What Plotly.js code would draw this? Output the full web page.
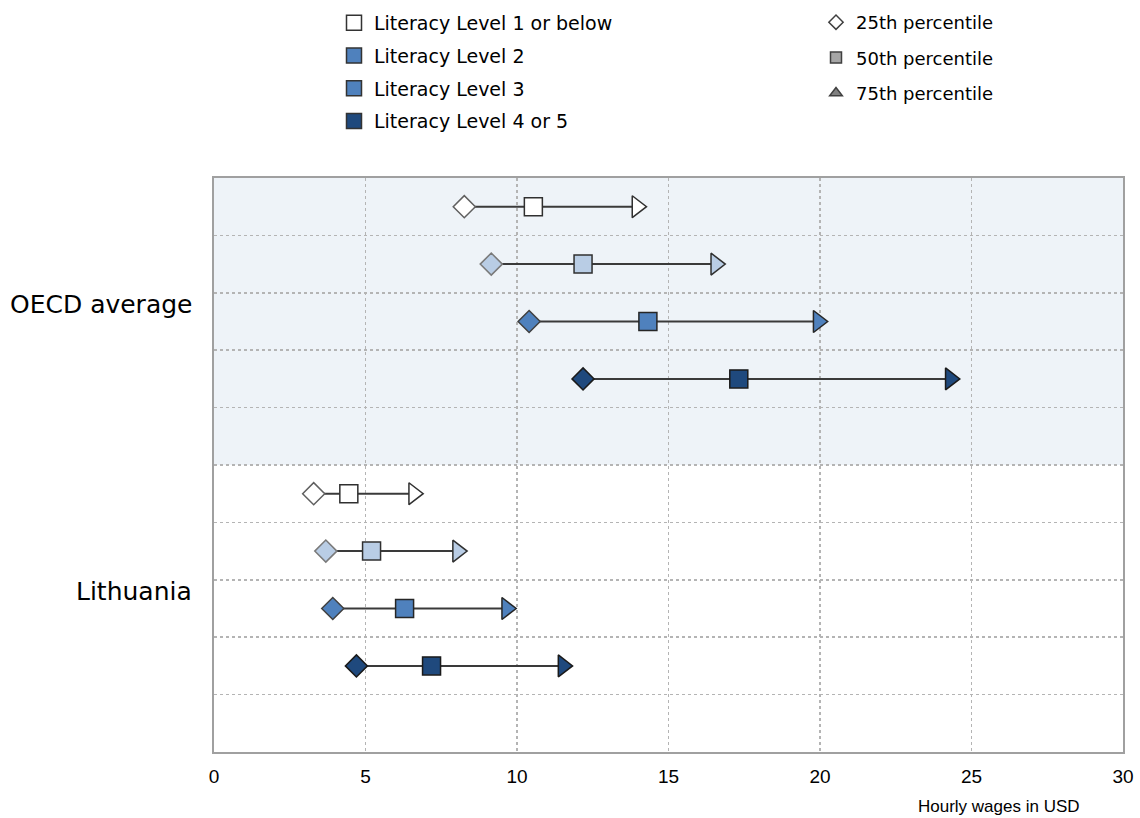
<!DOCTYPE html>
<html>
<head>
<meta charset="utf-8">
<script src="https://cdn.plot.ly/plotly-3.0.1.min.js"></script>
<style>html,body{margin:0;padding:0;background:#fff;}#chart{width:1140px;height:818px;}</style>
</head>
<body>
<div id="chart"></div>
<script>
// ---- data ----
var countries = ['OECD average', 'Lithuania'];
var levels = ['Literacy Level 1 or below', 'Literacy Level 2', 'Literacy Level 3', 'Literacy Level 4 or 5'];
var percentiles = ['25th percentile', '50th percentile', '75th percentile'];
var p25_oecd = [8.26, 9.15, 10.40, 12.18];
var p50_oecd = [10.54, 12.18, 14.32, 17.32];
var p75_oecd = [13.96, 16.56, 19.94, 24.30];
var p25_lt = [3.29, 3.69, 3.92, 4.70];
var p50_lt = [4.45, 5.20, 6.29, 7.18];
var p75_lt = [6.59, 8.04, 9.66, 11.52];
var xTicks = [0, 5, 10, 15, 20, 25, 30];
var xTitle = 'Hourly wages in USD';

// ---- style ----
var fillColors = ['#FFFFFF', '#B9CDE5', '#4F81BD', '#1F497D'];
var legendColors = ['#FFFFFF', '#4F81BD', '#4F81BD', '#1F497D'];
var edgeColors = ['#303030', '#303030', '#262626', '#1a1a1a'];
var diamondEdge = ['#606060', '#7a7a7a', '#404040', '#1a1a1a'];
var FONT = 'DejaVu Sans, Verdana, sans-serif';

// rows: OECD 0..3, gap 4, Lithuania 5..8, gap 9
var rowsOecd = [0, 1, 2, 3];
var rowsLt = [5, 6, 7, 8];

var W = 1140, H = 818;
var plotL = 214, plotR = 1123, plotT = 178, plotB = 752;

var traces = [];
for (var i = 0; i < levels.length; i++) {
  traces.push({
    type: 'scatter', mode: 'lines+markers', showlegend: false, hoverinfo: 'x',
    x: [p25_oecd[i], p50_oecd[i], p75_oecd[i], null, p25_lt[i], p50_lt[i], p75_lt[i]],
    y: [rowsOecd[i], rowsOecd[i], rowsOecd[i], null, rowsLt[i], rowsLt[i], rowsLt[i]],
    line: {color: '#3a3a3a', width: 2},
    marker: {
      opacity: 1,
      symbol: ['diamond', 'square', 'triangle-right', 'diamond', 'diamond', 'square', 'triangle-right'],
      size: [17, 18, 19, 17, 17, 18, 19],
      color: fillColors[i],
      line: {color: [diamondEdge[i], edgeColors[i], edgeColors[i], edgeColors[i], diamondEdge[i], edgeColors[i], edgeColors[i]], width: 1.5}
    }
  });
}
// legend entries (levels)
for (var j = 0; j < levels.length; j++) {
  traces.push({
    type: 'scatter', mode: 'markers', x: [null], y: [null], name: levels[j],
    legend: 'legend', legendgroup: 'l' + j,
    marker: {opacity: 1, symbol: 'square', size: 15, color: legendColors[j], line: {color: '#333', width: 1.5}}
  });
}
// legend entries (percentiles)
var pSyms = ['diamond', 'square', 'triangle-up'];
var pFill = ['#FFFFFF', '#A6A6A6', '#808080'];
for (var k = 0; k < percentiles.length; k++) {
  traces.push({
    type: 'scatter', mode: 'markers', x: [null], y: [null], name: percentiles[k],
    legend: 'legend2', legendgroup: 'p' + k,
    marker: {opacity: 1, symbol: pSyms[k], size: 11, color: pFill[k], line: {color: '#404040', width: 1.5}}
  });
}

var layout = {
  width: W, height: H,
  margin: {l: 0, r: 0, t: 0, b: 0},
  paper_bgcolor: '#fff', plot_bgcolor: 'rgba(0,0,0,0)',
  font: {family: FONT, color: '#000'},
  xaxis: {
    domain: [plotL / W, plotR / W],
    range: [0, 30], tickvals: xTicks, ticktext: xTicks.map(String),
    showgrid: true, gridcolor: '#b4b4b4', griddash: 'dot', gridwidth: 1.5,
    zeroline: false, showline: true, linecolor: '#a0a0a0', linewidth: 2, mirror: true,
    ticks: '', tickfont: {family: 'Liberation Sans, Arial, sans-serif', size: 19, color: '#000'},
    ticklabelstandoff: 6, fixedrange: true
  },
  yaxis: {
    domain: [1 - plotB / H, 1 - plotT / H],
    range: [9.5, -0.5], tickvals: [0.5, 1.5, 2.5, 3.5, 4.5, 5.5, 6.5, 7.5, 8.5],
    showticklabels: false, ticks: '',
    showgrid: true, gridcolor: '#b4b4b4', griddash: 'dot', gridwidth: 1.5,
    zeroline: false, showline: true, linecolor: '#a0a0a0', linewidth: 2, mirror: true, fixedrange: true
  },
  shapes: [{
    type: 'rect', layer: 'below', xref: 'x domain', yref: 'y',
    x0: 0, x1: 1, y0: -0.5, y1: 4.5, fillcolor: '#EEF3F8', line: {width: 0}
  }],
  annotations: [
    {text: countries[0], xref: 'paper', yref: 'y', x: 194 / W, y: 1.7, xanchor: 'right', yanchor: 'middle', showarrow: false, font: {family: FONT, size: 25, color: '#000'}},
    {text: countries[1], xref: 'paper', yref: 'y', x: 194 / W, y: 6.7, xanchor: 'right', yanchor: 'middle', showarrow: false, font: {family: FONT, size: 25, color: '#000'}},
    {text: xTitle, xref: 'paper', yref: 'paper', x: 1082 / W, y: 1 - 806 / H, xanchor: 'right', yanchor: 'middle', showarrow: false, font: {family: 'Liberation Sans, Arial, sans-serif', size: 17, color: '#000'}}
  ],
  legend: {
    x: 334 / W, y: 1 - 4 / H, xanchor: 'left', yanchor: 'top',
    font: {family: FONT, size: 19, color: '#000'}, bgcolor: 'rgba(0,0,0,0)',
    tracegroupgap: 5, itemclick: false, itemdoubleclick: false
  },
  legend2: {
    x: 816 / W, y: 1 - 4 / H, xanchor: 'left', yanchor: 'top',
    font: {family: FONT, size: 18, color: '#000'}, bgcolor: 'rgba(0,0,0,0)',
    tracegroupgap: 9, itemclick: false, itemdoubleclick: false
  },
  showlegend: true
};

Plotly.newPlot('chart', traces, layout, {displayModeBar: false, staticPlot: true});
</script>
</body>
</html>
